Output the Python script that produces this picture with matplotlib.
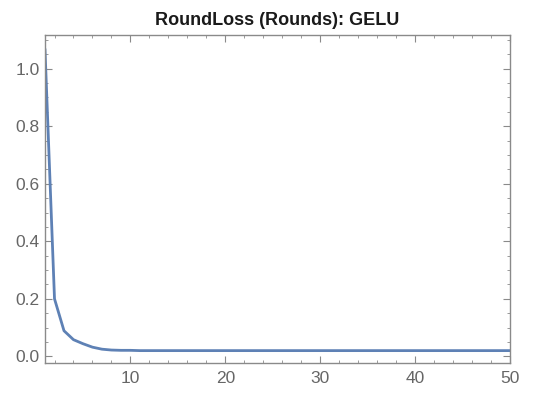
import matplotlib
matplotlib.use("Agg")
import matplotlib.pyplot as plt
from matplotlib.ticker import MultipleLocator

rounds = list(range(1, 51))
loss = [1.065, 0.200, 0.089, 0.058, 0.044, 0.032, 0.025, 0.022, 0.021, 0.021] + [0.020] * 40

title = "RoundLoss (Rounds): GELU"

plt.rcParams['font.family'] = ['Liberation Sans', 'DejaVu Sans']
fig = plt.figure(figsize=(5.34, 3.94), dpi=100)
ax = fig.add_axes([0.0843, 0.0787, 0.8707, 0.8325])
ax.plot(rounds, loss, color='#5E81B5', lw=2.0)
ax.set_xlim(1, 50)
ax.set_ylim(-0.023, 1.117)
ax.xaxis.set_major_locator(MultipleLocator(10))
ax.xaxis.set_minor_locator(MultipleLocator(2))
ax.yaxis.set_major_locator(MultipleLocator(0.2))
ax.yaxis.set_minor_locator(MultipleLocator(0.05))
ax.yaxis.set_major_formatter(matplotlib.ticker.FormatStrFormatter('%.1f'))
for s in ax.spines.values():
    s.set_color('#8a8a8a')
    s.set_linewidth(1.0)
ax.tick_params(which='both', direction='in', top=True, right=True, color='#8a8a8a',
               labelcolor='#666666', labelsize=12.5)
ax.tick_params(which='major', length=5)
ax.tick_params(which='minor', length=2.5)
ax.tick_params(axis='x', which='major', pad=6)
ax.tick_params(axis='y', which='major', pad=4)
ax.set_title(title, fontsize=13, fontweight='bold', color='#1a1a1a', pad=7)
fig.savefig('out.png', dpi=100)
